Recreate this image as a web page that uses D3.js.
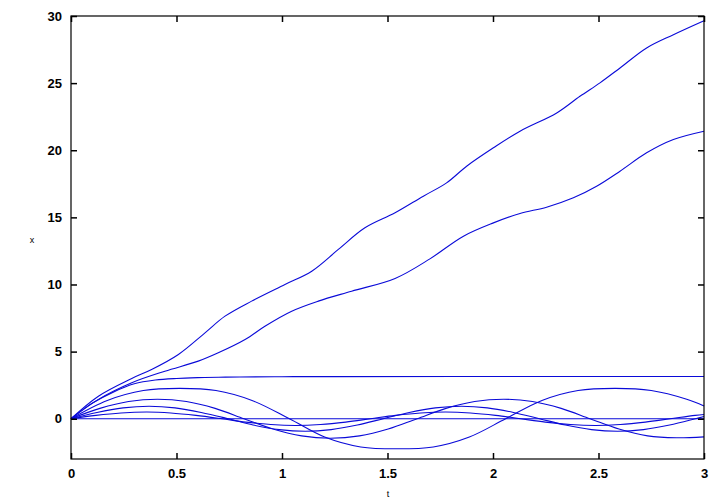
<!DOCTYPE html>
<html><head><meta charset="utf-8">
<script src="https://cdn.jsdelivr.net/npm/d3@7"></script>
<style>body{margin:0;background:#fff}svg{display:block}</style>
</head><body>
<script>
// Tick values
const xTicks = [0, 0.5, 1, 1.5, 2, 2.5, 3];
const yTicks = [0, 5, 10, 15, 20, 25, 30];

// Series: [t, x] pairs
const rest = [[0,0],[3,0]];
const swingA = [[0,0],[0.118,0.25],[0.237,0.43],[0.36,0.5],[0.473,0.43],[0.592,0.25],[0.715,0],[0.828,-0.25],[0.947,-0.43],[1.065,-0.5],[1.183,-0.43],[1.302,-0.25],[1.42,0],[1.538,0.25],[1.657,0.43],[1.775,0.5],[1.893,0.43],[2.012,0.25],[2.13,0],[2.248,-0.25],[2.367,-0.43],[2.485,-0.5],[2.603,-0.43],[2.722,-0.25],[2.84,0],[2.958,0.25],[3.0,0.32]];
const swingB = [[0,0],[0.123,0.47],[0.247,0.81],[0.37,0.93],[0.493,0.81],[0.617,0.47],[0.745,0],[0.863,-0.47],[0.987,-0.81],[1.11,-0.93],[1.233,-0.81],[1.357,-0.47],[1.48,0],[1.603,0.47],[1.727,0.81],[1.85,0.93],[1.973,0.81],[2.097,0.47],[2.22,0],[2.343,-0.47],[2.467,-0.81],[2.59,-0.93],[2.713,-0.81],[2.837,-0.47],[2.96,0],[3.0,0.16]];
const swingC = [[0,0],[0.137,0.77],[0.273,1.28],[0.41,1.45],[0.547,1.28],[0.683,0.77],[0.82,0],[0.957,-0.77],[1.093,-1.28],[1.23,-1.45],[1.367,-1.28],[1.503,-0.77],[1.64,0],[1.777,0.77],[1.913,1.28],[2.05,1.45],[2.187,1.28],[2.323,0.77],[2.46,0],[2.597,-0.77],[2.733,-1.28],[2.87,-1.42],[3.0,-1.35]];
const swingD = [[0,0],[0.172,1.36],[0.343,2.1],[0.515,2.26],[0.687,2.1],[0.858,1.36],[1.035,0],[1.202,-1.36],[1.373,-2.1],[1.545,-2.24],[1.717,-2.1],[1.888,-1.36],[2.06,0],[2.232,1.36],[2.403,2.1],[2.58,2.26],[2.75,2.1],[2.918,1.45],[3.0,0.95]];
const separatrix = [[0,0],[0.05,0.6],[0.1,1.15],[0.2,1.98],[0.3,2.6],[0.4,2.88],[0.5,3.0],[0.6,3.06],[0.7,3.09],[0.8,3.11],[1.0,3.13],[1.25,3.14],[2.0,3.15],[3.0,3.15]];
const spinSlow = [[0,0],[0.13,1.44],[0.288,2.68],[0.445,3.54],[0.603,4.29],[0.698,4.91],[0.825,5.9],[0.919,6.89],[1.046,8.01],[1.172,8.76],[1.33,9.5],[1.536,10.45],[1.701,11.91],[1.86,13.6],[2.002,14.59],[2.128,15.29],[2.254,15.76],[2.381,16.46],[2.491,17.32],[2.602,18.44],[2.728,19.81],[2.855,20.8],[3.0,21.42]];
const spinFast = [[0,0],[0.13,1.68],[0.288,3.0],[0.382,3.67],[0.509,4.79],[0.635,6.4],[0.73,7.64],[0.856,8.76],[1.014,10.0],[1.141,10.99],[1.267,12.61],[1.393,14.22],[1.536,15.34],[1.67,16.58],[1.78,17.57],[1.875,18.81],[2.002,20.18],[2.128,21.42],[2.302,22.78],[2.412,24.02],[2.507,25.02],[2.602,26.13],[2.728,27.62],[2.855,28.61],[3.0,29.65]];
const series = [rest, swingA, swingB, swingC, swingD, separatrix, spinSlow, spinFast];

const W = 720, H = 504;
const m = {left: 71, right: 16, top: 16, bottom: 45};
const x = d3.scaleLinear().domain([0, 3]).range([m.left, W - m.right]);
const y = d3.scaleLinear().domain([-3, 30]).range([H - m.bottom, m.top]);

const svg = d3.select("body").append("svg").attr("width", W).attr("height", H);

const line = d3.line().x(d => x(d[0])).y(d => y(d[1])).curve(d3.curveCatmullRom.alpha(0.5));
svg.append("g").selectAll("path").data(series).join("path")
  .attr("d", line).attr("fill", "none").attr("stroke", "#0a0ad8").attr("stroke-width", 1.1);

const font = "'Liberation Sans', Arial, sans-serif";
const tk = 6;
// bottom axis
const gB = svg.append("g").attr("transform", `translate(0,${H - m.bottom})`)
  .call(d3.axisBottom(x).tickValues(xTicks).tickFormat(d3.format("")).tickSizeInner(-tk).tickSizeOuter(0).tickPadding(10));
// top axis (mirror ticks)
const gT = svg.append("g").attr("transform", `translate(0,${m.top})`)
  .call(d3.axisTop(x).tickValues(xTicks).tickFormat("").tickSizeInner(-tk).tickSizeOuter(0));
// left axis
const gL = svg.append("g").attr("transform", `translate(${m.left},0)`)
  .call(d3.axisLeft(y).tickValues(yTicks).tickFormat(d3.format("")).tickSizeInner(-tk).tickSizeOuter(0).tickPadding(9));
// right axis (mirror ticks)
const gR = svg.append("g").attr("transform", `translate(${W - m.right},0)`)
  .call(d3.axisRight(y).tickValues(yTicks).tickFormat("").tickSizeInner(-tk).tickSizeOuter(0));
[gB, gT, gL, gR].forEach(g => {
  g.select(".domain").remove();
  g.selectAll("line").attr("stroke", "#000").attr("stroke-width", 1.5);
  g.selectAll("text").attr("font-family", font).attr("font-size", 13).attr("font-weight", "bold").attr("fill", "#000");
});
// frame
svg.append("rect").attr("x", m.left).attr("y", m.top)
  .attr("width", W - m.left - m.right).attr("height", H - m.top - m.bottom)
  .attr("fill", "none").attr("stroke", "#000").attr("stroke-width", 1.2);

svg.append("text").attr("x", 388).attr("y", 497).attr("text-anchor", "middle")
  .attr("font-family", font).attr("font-size", 9).text("t");
svg.append("text").attr("x", 32).attr("y", 243).attr("text-anchor", "middle")
  .attr("font-family", font).attr("font-size", 9).text("x");
</script>
</body></html>
